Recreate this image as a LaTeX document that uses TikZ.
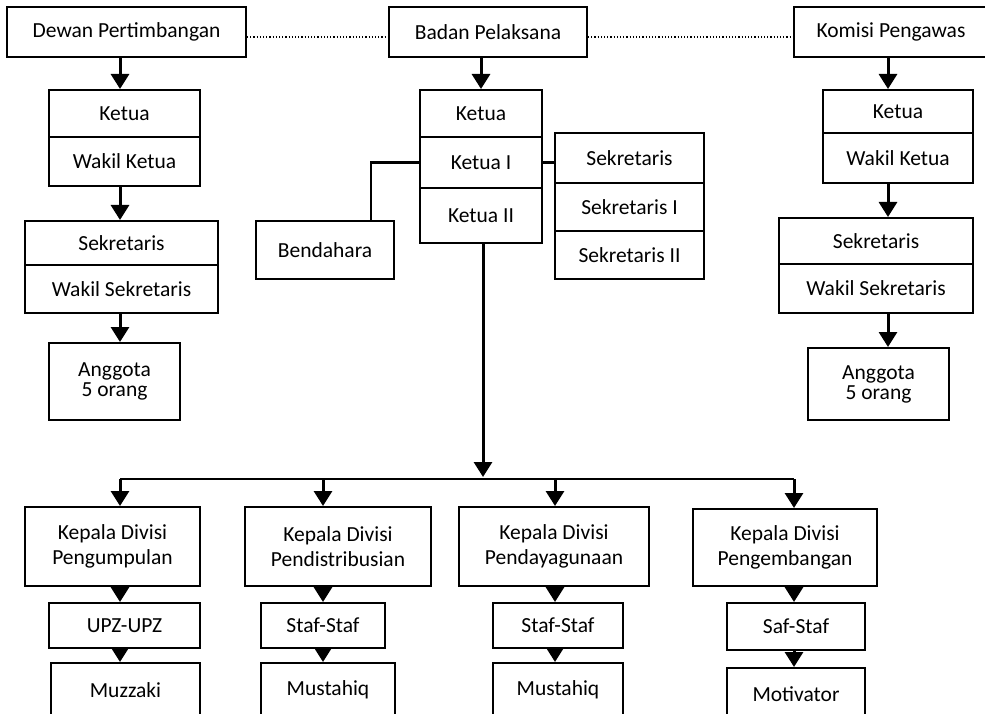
\documentclass[tikz,border=0pt]{standalone}
\usepackage{fontspec}
\setmainfont{Carlito}
\usepackage{tikz}
\usetikzlibrary{arrows.meta,calc,positioning}
\tikzset{
  kotak/.style={draw,line width=2pt,inner sep=0pt,align=center,font=\fontsize{21.5}{25}\selectfont},
  panah/.style={line width=3pt,-{Triangle[length=15pt,width=18pt]}},
  garis/.style={line width=2.4pt},
  titik/.style={line width=1.2pt,dotted}
}

\begin{document}
\begin{tikzpicture}[x=1pt,y=-1pt]
\useasboundingbox (0,0) rectangle (985,714);
\clip (0,0) rectangle (985,714);
\coordinate (dx) at (120,0);
\coordinate (bx) at (371,0);
\coordinate (kx) at (888,0);
\coordinate (by) at (0,479);
\node[kotak,minimum width=239pt,minimum height=50pt] (dp) at (126.5,32) {Dewan Pertimbangan};
\node[kotak,minimum width=198pt,minimum height=50pt] (bp) at (488,32) {Badan Pelaksana};
\node[kotak,minimum width=194pt,minimum height=50pt] (kp) at (891,32) {Komisi Pengawas};
\draw[titik] ([yshift=-5pt]dp.east) -- ([yshift=-5pt]bp.west);
\draw[titik] ([yshift=-5pt]bp.east) -- ([yshift=-5pt]kp.west);
\node[kotak,minimum width=151pt,minimum height=47pt] (dk) at (124.5,113.5) {Ketua};
\node[kotak,minimum width=151pt,minimum height=49pt] (dwk) at (124.5,161.5) {Wakil Ketua};
\node[kotak,minimum width=193pt,minimum height=44pt] (ds) at (121.5,243) {Sekretaris};
\node[kotak,minimum width=193pt,minimum height=48pt] (dws) at (121.5,289) {Wakil Sekretaris};
\node[kotak,minimum width=131pt,minimum height=77pt] (da) at (114.5,381.5) {Anggota\\[-5pt]5 orang};
\draw[panah] (dp.south -| dx) -- (dk.north -| dx);
\draw[panah] (dwk.south -| dx) -- (ds.north -| dx);
\draw[panah] (dws.south -| dx) -- (da.north -| dx);
\node[kotak,minimum width=122pt,minimum height=47pt] (bk) at (481,113.5) {Ketua};
\node[kotak,minimum width=122pt,minimum height=51pt] (bk1) at (481,162.5) {Ketua I};
\node[kotak,minimum width=122pt,minimum height=55pt] (bk2) at (481,215.5) {Ketua II};
\node[kotak,minimum width=138pt,minimum height=58pt] (bd) at (325,250) {Bendahara};
\node[kotak,minimum width=149pt,minimum height=50pt] (bs) at (629.5,158) {Sekretaris};
\node[kotak,minimum width=149pt,minimum height=48pt] (bs1) at (629.5,207) {Sekretaris I};
\node[kotak,minimum width=149pt,minimum height=48pt] (bs2) at (629.5,255) {Sekretaris II};
\draw[panah] (bp.south -| bk.north) -- (bk.north);
\draw[garis] (bk1.west) -| (bx |- bd.north);
\draw[garis] (bk1.east) -- (bk1.east -| bs.west);
\node[kotak,minimum width=150pt,minimum height=43pt] (kk) at (898,111.5) {Ketua};
\node[kotak,minimum width=150pt,minimum height=50pt] (kwk) at (898,158) {Wakil Ketua};
\node[kotak,minimum width=194pt,minimum height=46pt] (ks) at (876,241) {Sekretaris};
\node[kotak,minimum width=194pt,minimum height=49pt] (kws) at (876,288.5) {Wakil Sekretaris};
\node[kotak,minimum width=141pt,minimum height=72pt] (ka) at (878.5,384) {Anggota\\[-5pt]5 orang};
\draw[panah] (kp.south -| kx) -- (kk.north -| kx);
\draw[panah] (kwk.south -| kx) -- (ks.north -| kx);
\draw[panah] (kws.south -| kx) -- (ka.north -| kx);
\node[kotak,minimum width=175pt,minimum height=79pt] (v1) at (112.5,546.5) {Kepala Divisi\\Pengumpulan};
\node[kotak,minimum width=186pt,minimum height=79pt] (v2) at (338,546.5) {Kepala Divisi\\Pendistribusian};
\node[kotak,minimum width=190pt,minimum height=79pt] (v3) at (554,546.5) {Kepala Divisi\\Pendayagunaan};
\node[kotak,minimum width=184pt,minimum height=77pt] (v4) at (785,547.5) {Kepala Divisi\\Pengembangan};
\node[kotak,minimum width=151pt,minimum height=45pt] (u1) at (124.5,625.5) {UPZ-UPZ};
\node[kotak,minimum width=124pt,minimum height=45pt] (u2) at (323,625.5) {Staf-Staf};
\node[kotak,minimum width=130pt,minimum height=45pt] (u3) at (558,625.5) {Staf-Staf};
\node[kotak,minimum width=138pt,minimum height=47pt] (u4) at (796,626.5) {Saf-Staf};
\node[kotak,minimum width=149pt,minimum height=54pt] (m1) at (125.5,690) {Muzzaki};
\node[kotak,minimum width=134pt,minimum height=54pt] (m2) at (328,690) {Mustahiq};
\node[kotak,minimum width=130pt,minimum height=54pt] (m3) at (558,690) {Mustahiq};
\node[kotak,minimum width=138pt,minimum height=52pt] (m4) at (796,694) {Motivator};
\coordinate (x1) at (120,0);
\coordinate (x2) at (323,0);
\coordinate (x3) at (555,0);
\coordinate (x4) at (794,0);
\draw[panah] (bk2.south -| 483,0) -- (483,477);
\draw[garis] (x1 |- by) -- (x4 |- by);
\foreach \i in {1,2,3,4}{
  \draw[panah] (x\i |- by) -- (v\i.north -| x\i);
  \draw[panah] (v\i.south -| x\i) -- (u\i.north -| x\i);
  \draw[panah] (u\i.south -| x\i) -- (m\i.north -| x\i);
}
\end{tikzpicture}
\end{document}
